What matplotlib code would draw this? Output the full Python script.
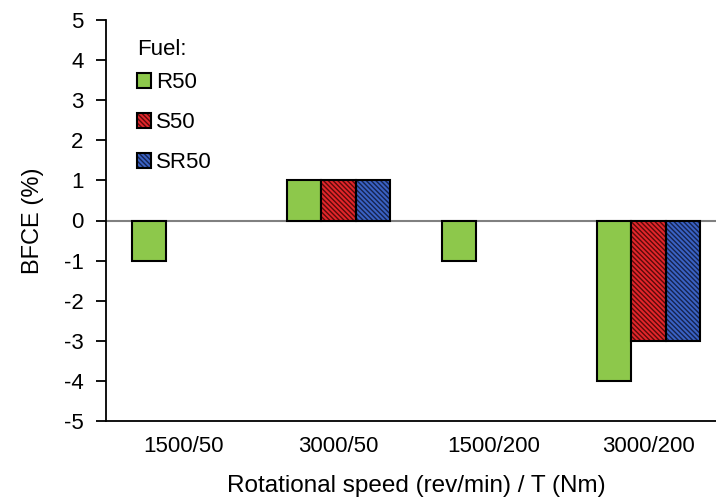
import numpy as np
import matplotlib.pyplot as plt
from matplotlib.patches import Patch

plt.rcParams['font.family'] = ['Liberation Sans', 'DejaVu Sans']
plt.rcParams['axes.unicode_minus'] = False
plt.rcParams['hatch.linewidth'] = 1.0

conditions = ['1500/50', '3000/50', '1500/200', '3000/200']
fuels = ['R50', 'S50', 'SR50']
# no S50 / SR50 bars at 1500/50 and 1500/200
bfce = {
    'R50': [-1, 1, -1, -4],
    'S50': [np.nan, 1, np.nan, -3],
    'SR50': [np.nan, 1, np.nan, -3],
}
face_colors = {'R50': '#8dc84b', 'S50': '#e3262b', 'SR50': '#3a62c4'}
hatch_colors = {'R50': None, 'S50': '#5a0a0a', 'SR50': '#15234f'}
hatches = {'R50': '', 'S50': '\\' * 7, 'SR50': '\\' * 7}

fig = plt.figure(figsize=(7.16, 5.0), dpi=100)
ax = fig.add_axes([0.148, 0.158, 0.866, 0.802])

x = np.arange(len(conditions))
width = 0.221
handles = []
for i, fuel in enumerate(fuels):
    vals = bfce[fuel]
    pos = x + (i - 1) * width
    if hatches[fuel]:
        # hatched fill first, black outline on top
        ax.bar(pos, vals, width, color=face_colors[fuel], hatch=hatches[fuel],
               edgecolor=hatch_colors[fuel], linewidth=0, zorder=3)
        ax.bar(pos, vals, width, fill=False, edgecolor='black', linewidth=1.5, zorder=4)
        handles.append((Patch(facecolor=face_colors[fuel], hatch='\\' * 7,
                              edgecolor=hatch_colors[fuel], linewidth=0),
                        Patch(fill=False, edgecolor='black', linewidth=1.5)))
    else:
        ax.bar(pos, vals, width, color=face_colors[fuel], edgecolor='black',
               linewidth=1.5, zorder=3)
        handles.append(Patch(facecolor=face_colors[fuel], edgecolor='black', linewidth=1.5))

ax.axhline(0, color='#808080', linewidth=1.5, zorder=2)

ax.set_xlim(-0.5, len(conditions) - 0.5)
ax.set_ylim(-5, 5)
ax.set_yticks(range(-5, 6))
ax.set_xticks(x)
ax.set_xticklabels(conditions)

ax.spines['top'].set_visible(False)
ax.spines['right'].set_visible(False)
ax.spines['left'].set_linewidth(1.3)
ax.spines['bottom'].set_linewidth(1.3)
ax.tick_params(axis='y', direction='out', length=7, width=1.3, pad=9, labelsize=16)
ax.tick_params(axis='x', length=0, pad=11, labelsize=16)

ax.set_ylabel('BFCE (%)', fontsize=17, labelpad=14)
ax.set_xlabel('Rotational speed (rev/min) / T (Nm)', fontsize=17.5, labelpad=13)

leg = ax.legend(handles, fuels, title='Fuel:', loc='upper left',
                bbox_to_anchor=(0.05, 0.953), frameon=False, fontsize=16,
                title_fontsize=16, handlelength=0.62, handleheight=0.62,
                handletextpad=0.25, labelspacing=0.85, borderpad=0.0,
                borderaxespad=0.0)
leg._legend_box.align = 'left'
leg._legend_box.sep = 9

fig.savefig('out.png', dpi=100)
